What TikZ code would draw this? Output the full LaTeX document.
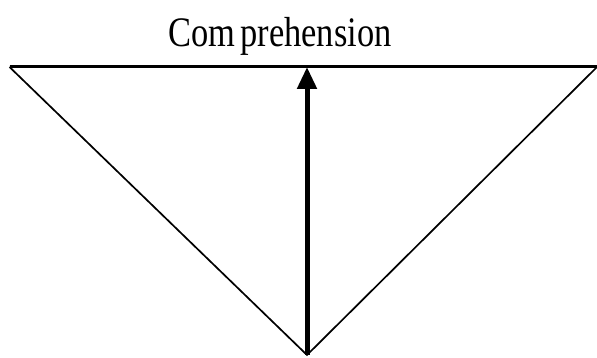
\documentclass[tikz,border=0pt]{standalone}
\usepackage{fontspec}
\setmainfont{Liberation Serif}
\usepackage{graphicx}
\usetikzlibrary{arrows.meta,positioning}

\begin{document}
\begin{tikzpicture}[x=1pt,y=1pt,
    edge/.style={line width=1.7pt},
    topline/.style={line width=3pt},
    upArrow/.style={line width=5pt,-{Triangle[width=19pt,length=22pt]}}]
  \useasboundingbox (0,0) rectangle (597,358);
  % corners of the triangle
  \coordinate (tl) at (9.5,291);
  \coordinate (tr) at (597,291);
  \coordinate (apex) at (307,3);
  \coordinate (mid) at (307,291);
  \draw[topline] (tl) -- (tr);
  \draw[edge] (tl) -- (apex) -- (tr);
  \draw[upArrow] (apex) -- (mid);
  \node[font=\fontsize{42}{44}\selectfont,anchor=base] (comp) at (280,311) {\scalebox{0.82}[1]{Com\hspace{0.15em}prehension}};
\end{tikzpicture}
\end{document}
